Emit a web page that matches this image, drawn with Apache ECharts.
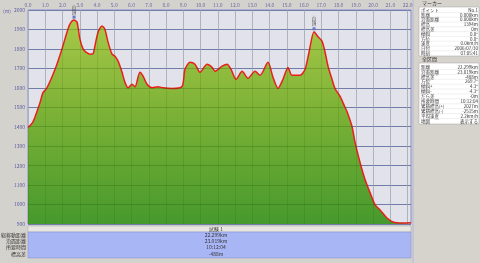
<!DOCTYPE html>
<html><head><meta charset="utf-8">
<script src="https://cdn.jsdelivr.net/npm/echarts@6/dist/echarts.min.js"></script>
<style>html,body{margin:0;padding:0;background:#d4d2cc;}#c{width:480px;height:263px;}</style>
</head><body><div id="c"></div>
<script>
const distKm = [0.00,0.29,0.70,0.87,1.10,1.57,1.97,2.26,2.43,2.67,2.84,3.01,3.19,3.36,3.59,3.77,3.88,4.06,4.29,4.46,4.64,4.87,5.04,5.22,5.45,5.62,5.80,6.03,6.20,6.49,6.67,6.90,7.19,7.54,7.83,8.35,8.93,9.10,9.39,9.68,9.97,10.38,10.67,10.84,11.25,11.54,11.77,12.06,12.41,12.75,13.16,13.45,13.91,14.20,14.49,14.78,15.07,15.30,15.77,16.06,16.29,16.58,16.81,17.04,17.22,17.39,17.62,17.80,18.09,18.38,18.49,18.78,18.96,19.25,19.54,19.83,20.12,20.41,20.81,21.16,21.74,22.20];
const elevM = [1396,1425,1525,1575,1600,1695,1800,1886,1928,1948,1938,1850,1800,1783,1773,1775,1815,1886,1918,1900,1835,1773,1762,1737,1680,1628,1600,1618,1605,1680,1660,1618,1600,1605,1600,1597,1607,1695,1731,1721,1680,1721,1705,1685,1711,1721,1695,1644,1685,1649,1685,1664,1731,1654,1597,1644,1705,1664,1664,1695,1783,1888,1862,1840,1783,1711,1644,1595,1556,1499,1478,1401,1318,1215,1127,1060,998,972,931,910,905,906];
const peakKm = [2.67, 16.58];
const peakElev = [1948, 1888];
const peakNames = ['山頂', '山頂'];
const markerTitle = 'マーカー';
const markerLabels = ['ポイント','距離','沿面距離','標高','標高差','傾斜','方位','速度','日付','時刻'];
const markerValues = ['No.1','0.000km','0.000km','1394m','0m','0.0°','0.0°','0.0km/h','2006/07/30','07:05:41'];
const totalTitle = '全区間';
const totalLabels = ['距離','沿面距離','標高差','方位','傾斜+','傾斜-','だら差','所要時間','累積標高(+)','累積標高(-)','平均速度','地図'];
const totalValues = ['22.299km','23.019km','-488m','269.7°','4.3°','-4.3°','-0m','10:12:04','2027m','-2515m','2.2km/h','表示する'];
const summaryLabels = ['総移動距離','沿面距離','所要時間','標高差'];
const summaryValues = ['22.299km','23.019km','10:12:04','-488m'];
const sectionName = '試験 1';
const yUnit = '(m)';

const FONT = '"Noto Sans CJK JP", "DejaVu Sans", sans-serif';
const chart = echarts.init(document.getElementById('c'));

const g = [];
g.push({type:'rect', shape:{x:28,y:226,width:383,height:6}, style:{fill:'#e8e6e0', stroke:'#a8a8b0', lineWidth:0.5}});
g.push({type:'text', x:216, y:229, style:{text:sectionName, font:'5px '+FONT, fill:'#333', textAlign:'center', textVerticalAlign:'middle'}});
g.push({type:'rect', shape:{x:28,y:232,width:383,height:26}, style:{fill:'#a8b6f6', stroke:'#8088c8', lineWidth:0.5}});
summaryLabels.forEach((t,i)=>{
  g.push({type:'text', x:26, y:235+i*6.2, style:{text:t, font:'5px '+FONT, fill:'#333', textAlign:'right', textVerticalAlign:'middle'}});
  g.push({type:'text', x:216, y:235+i*6.2, style:{text:summaryValues[i], font:'5px '+FONT, fill:'#333', textAlign:'center', textVerticalAlign:'middle'}});
});
g.push({type:'rect', shape:{x:414,y:0,width:66,height:263}, style:{fill:'#d6d3cc'}});
g.push({type:'rect', shape:{x:412,y:0,width:2,height:263}, style:{fill:'#c4c4d4'}});
g.push({type:'text', x:422, y:3, style:{text:markerTitle, font:'5px '+FONT, fill:'#333', textVerticalAlign:'middle'}});
g.push({type:'rect', shape:{x:419,y:7,width:60,height:49}, style:{fill:'#ffffff', stroke:'#a0a0a0', lineWidth:0.5}});
markerLabels.forEach((t,i)=>{
  const y = 10+i*4.8;
  g.push({type:'text', x:421, y:y, style:{text:t, font:'4.5px '+FONT, fill:'#333', textVerticalAlign:'middle'}});
  g.push({type:'text', x:478, y:y, style:{text:markerValues[i], font:'4.5px '+FONT, fill:'#333', textAlign:'right', textVerticalAlign:'middle'}});
  if(i>0) g.push({type:'line', shape:{x1:419,y1:y-2.4,x2:479,y2:y-2.4}, style:{stroke:'#e0e0e0', lineWidth:0.5}});
});
g.push({type:'text', x:422, y:59, style:{text:totalTitle, font:'5px '+FONT, fill:'#333', textVerticalAlign:'middle'}});
g.push({type:'rect', shape:{x:419,y:63,width:60,height:61}, style:{fill:'#ffffff', stroke:'#a0a0a0', lineWidth:0.5}});
totalLabels.forEach((t,i)=>{
  const y = 67+i*4.9;
  g.push({type:'text', x:421, y:y, style:{text:t, font:'4.5px '+FONT, fill:'#333', textVerticalAlign:'middle'}});
  g.push({type:'text', x:478, y:y, style:{text:totalValues[i], font:'4.5px '+FONT, fill:'#333', textAlign:'right', textVerticalAlign:'middle'}});
  if(i>0) g.push({type:'line', shape:{x1:419,y1:y-2.45,x2:479,y2:y-2.45}, style:{stroke:'#e0e0e0', lineWidth:0.5}});
});
g.push({type:'text', x:3, y:11, style:{text:yUnit, font:'5px '+FONT, fill:'#5a5aa8', textVerticalAlign:'middle'}});

const data = distKm.map((d,i)=>[d, elevM[i]]);

chart.setOption({
  backgroundColor:'#d4d2cc',
  animation:false,
  textStyle:{fontFamily:FONT},
  grid:[
    {left:28, top:10, width:383, height:214, show:true, backgroundColor:'#e2e2ea', borderColor:'#8c8cdc', borderWidth:1},
    {left:28, top:10, width:383, height:214, show:false}
  ],
  xAxis:[
    {type:'value', gridIndex:0, min:0, max:22.2, interval:1, position:'top',
     axisLine:{show:false}, axisTick:{show:false},
     axisLabel:{fontSize:5, color:'#6a6aa0', margin:2, formatter:v=>v.toFixed(1), showMaxLabel:false},
     splitLine:{show:true, lineStyle:{color:'#c2c2d8', width:1}}},
    {type:'value', gridIndex:1, min:0, max:22.2, interval:1, z:5,
     axisLine:{show:false}, axisTick:{show:false}, axisLabel:{show:false},
     splitLine:{show:true, lineStyle:{color:'rgba(20,70,0,0.12)', width:1}}}
  ],
  yAxis:[
    {type:'value', gridIndex:0, min:900, max:2000, interval:100,
     axisLine:{show:false}, axisTick:{show:false},
     axisLabel:{fontSize:5, color:'#5a5aa8', margin:3, formatter:v=>String(v)},
     splitLine:{show:true, lineStyle:{color:'#8c8cdc', width:1}}},
    {type:'value', gridIndex:1, min:900, max:2000, interval:100, z:5,
     axisLine:{show:false}, axisTick:{show:false}, axisLabel:{show:false},
     splitLine:{show:true, lineStyle:{color:'rgba(20,70,0,0.22)', width:1}}}
  ],
  series:[
    {type:'line', xAxisIndex:0, yAxisIndex:0, data:data, symbol:'none', smooth:0.25,
     lineStyle:{color:'#e8201c', width:1.5},
     areaStyle:{origin:'start', opacity:1, color:new echarts.graphic.LinearGradient(0,0,0,1,[
        {offset:0, color:'#a8c848'},{offset:0.45, color:'#7cb236'},{offset:1, color:'#46992c'}])},
     markPoint:{symbol:'rect', symbolSize:[3,3], symbolOffset:[0,-3], itemStyle:{color:'#6a78c0'},
       label:{show:true, position:'top', distance:1, fontSize:4.5, lineHeight:5, color:'#444',
         formatter:p=>p.name.split('').join('\n')},
       data:peakKm.map((k,i)=>({name:peakNames[i], coord:[k, peakElev[i]]}))}
    },
    {type:'line', xAxisIndex:1, yAxisIndex:1, data:[], symbol:'none'}
  ],
  graphic:g
});
</script></body></html>
